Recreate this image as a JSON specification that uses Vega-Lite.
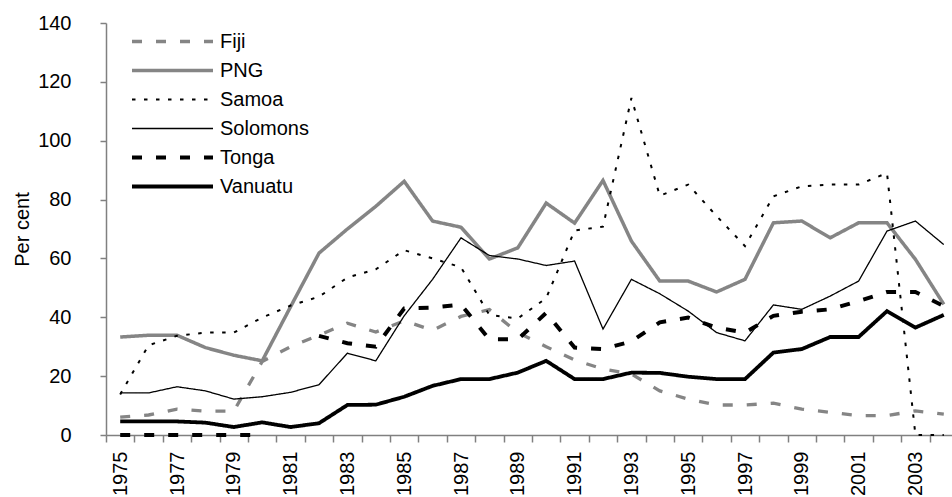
{
  "$schema": "https://vega.github.io/schema/vega-lite/v6.json",
  "width": 846,
  "height": 412,
  "autosize": {"type": "none"},
  "padding": {"left": 106, "top": 23, "right": 0, "bottom": 62},
  "background": "white",
  "config": {"view": {"stroke": null}, "font": "Liberation Sans"},
  "data": {
    "values": [
      {"year": 1975, "Fiji": 6.1, "PNG": 33.3, "Samoa": 13.8, "Solomons": 14.3, "Tonga": 0, "Vanuatu": 4.6},
      {"year": 1976, "Fiji": 6.8, "PNG": 33.9, "Samoa": 30.5, "Solomons": 14.3, "Tonga": 0, "Vanuatu": 4.6},
      {"year": 1977, "Fiji": 8.8, "PNG": 33.9, "Samoa": 33.7, "Solomons": 16.4, "Tonga": 0, "Vanuatu": 4.6},
      {"year": 1978, "Fiji": 8.1, "PNG": 29.7, "Samoa": 34.8, "Solomons": 15.0, "Tonga": 0, "Vanuatu": 4.2},
      {"year": 1979, "Fiji": 8.1, "PNG": 27.1, "Samoa": 34.8, "Solomons": 12.2, "Tonga": 0, "Vanuatu": 2.7},
      {"year": 1980, "Fiji": 25.0, "PNG": 25.2, "Samoa": 39.9, "Solomons": 13.0, "Tonga": 0, "Vanuatu": 4.3},
      {"year": 1981, "Fiji": 30.0, "PNG": 43.6, "Samoa": 44.0, "Solomons": 14.5, "Tonga": null, "Vanuatu": 2.7},
      {"year": 1982, "Fiji": 33.9, "PNG": 61.8, "Samoa": 47.0, "Solomons": 17.1, "Tonga": 33.7, "Vanuatu": 4.0},
      {"year": 1983, "Fiji": 38.0, "PNG": 70.0, "Samoa": 53.5, "Solomons": 27.8, "Tonga": 31.2, "Vanuatu": 10.2},
      {"year": 1984, "Fiji": 35.0, "PNG": 77.7, "Samoa": 56.3, "Solomons": 25.2, "Tonga": 30.0, "Vanuatu": 10.3},
      {"year": 1985, "Fiji": 38.8, "PNG": 86.2, "Samoa": 62.8, "Solomons": 40.5, "Tonga": 43.0, "Vanuatu": 13.0},
      {"year": 1986, "Fiji": 35.6, "PNG": 72.7, "Samoa": 60.0, "Solomons": 52.9, "Tonga": 43.3, "Vanuatu": 16.7},
      {"year": 1987, "Fiji": 40.3, "PNG": 70.6, "Samoa": 57.0, "Solomons": 67.0, "Tonga": 44.3, "Vanuatu": 19.0},
      {"year": 1988, "Fiji": 42.6, "PNG": 59.8, "Samoa": 40.8, "Solomons": 61.0, "Tonga": 32.5, "Vanuatu": 19.0},
      {"year": 1989, "Fiji": 34.8, "PNG": 63.6, "Samoa": 39.6, "Solomons": 59.8, "Tonga": 32.5, "Vanuatu": 21.2},
      {"year": 1990, "Fiji": 30.0, "PNG": 78.8, "Samoa": 46.5, "Solomons": 57.6, "Tonga": 41.5, "Vanuatu": 25.2},
      {"year": 1991, "Fiji": 25.5, "PNG": 72.0, "Samoa": 69.5, "Solomons": 59.1, "Tonga": 29.7, "Vanuatu": 19.0},
      {"year": 1992, "Fiji": 22.4, "PNG": 86.5, "Samoa": 70.8, "Solomons": 36.0, "Tonga": 29.2, "Vanuatu": 19.0},
      {"year": 1993, "Fiji": 20.7, "PNG": 65.9, "Samoa": 114.5, "Solomons": 52.9, "Tonga": 31.8, "Vanuatu": 21.2},
      {"year": 1994, "Fiji": 15.0, "PNG": 52.3, "Samoa": 81.3, "Solomons": 48.0, "Tonga": 38.3, "Vanuatu": 21.1},
      {"year": 1995, "Fiji": 12.2, "PNG": 52.3, "Samoa": 85.1, "Solomons": 42.1, "Tonga": 39.9, "Vanuatu": 19.8},
      {"year": 1996, "Fiji": 10.2, "PNG": 48.6, "Samoa": 74.4, "Solomons": 34.8, "Tonga": 36.5, "Vanuatu": 19.0},
      {"year": 1997, "Fiji": 10.2, "PNG": 52.9, "Samoa": 64.2, "Solomons": 32.0, "Tonga": 34.8, "Vanuatu": 19.0},
      {"year": 1998, "Fiji": 10.8, "PNG": 72.1, "Samoa": 81.1, "Solomons": 44.2, "Tonga": 40.5, "Vanuatu": 28.0},
      {"year": 1999, "Fiji": 8.8, "PNG": 72.7, "Samoa": 84.5, "Solomons": 42.7, "Tonga": 41.9, "Vanuatu": 29.2},
      {"year": 2000, "Fiji": 7.7, "PNG": 67.0, "Samoa": 85.1, "Solomons": 47.2, "Tonga": 42.7, "Vanuatu": 33.3},
      {"year": 2001, "Fiji": 6.6, "PNG": 72.1, "Samoa": 85.1, "Solomons": 52.3, "Tonga": 45.5, "Vanuatu": 33.3},
      {"year": 2002, "Fiji": 6.6, "PNG": 72.1, "Samoa": 89.0, "Solomons": 69.3, "Tonga": 48.6, "Vanuatu": 42.1},
      {"year": 2003, "Fiji": 8.2, "PNG": 59.7, "Samoa": 0, "Solomons": 72.7, "Tonga": 48.6, "Vanuatu": 36.5},
      {"year": 2004, "Fiji": 7.1, "PNG": 44.4, "Samoa": 0, "Solomons": 64.7, "Tonga": 43.8, "Vanuatu": 40.8}
    ]
  },
  "transform": [
    {"fold": ["Fiji", "PNG", "Samoa", "Solomons", "Tonga", "Vanuatu"], "as": ["country", "value"]}
  ],
  "mark": {"type": "line", "invalid": "break-paths-filter-domains", "strokeCap": "butt"},
  "encoding": {
    "x": {
      "field": "year",
      "type": "ordinal",
      "scale": {"type": "band", "range": [0, 852], "paddingInner": 0, "paddingOuter": 0},
      "axis": {
        "title": null,
        "tickBand": "extent",
        "labelExpr": "datum.value % 2 == 1 ? datum.label : ''",
        "labelAngle": -90,
        "labelFontSize": 20,
        "labelFont": "Liberation Sans",
        "labelColor": "#000000",
        "labelPadding": 9,
        "labelOverlap": false,
        "labelBound": false,
        "tickSize": 7,
        "tickColor": "#808080",
        "tickWidth": 1.5,
        "domainColor": "#808080",
        "domainWidth": 1.5,
        "grid": false
      }
    },
    "y": {
      "field": "value",
      "type": "quantitative",
      "scale": {"domain": [0, 140], "nice": false},
      "axis": {
        "title": "Per cent",
        "values": [0, 20, 40, 60, 80, 100, 120, 140],
        "grid": false,
        "tickSize": 6,
        "tickColor": "#808080",
        "tickWidth": 1.5,
        "domainColor": "#808080",
        "domainWidth": 1.5,
        "labelPadding": 29,
        "labelFontSize": 20,
        "labelFont": "Liberation Sans",
        "labelColor": "#000000",
        "titleFontSize": 20,
        "titleFont": "Liberation Sans",
        "titleFontWeight": "normal",
        "titleColor": "#000000",
        "titleAngle": -90,
        "titleX": -78,
        "titleY": 206,
        "titleAlign": "center",
        "titleBaseline": "alphabetic"
      }
    },
    "color": {
      "field": "country",
      "type": "nominal",
      "scale": {
        "domain": ["Fiji", "PNG", "Samoa", "Solomons", "Tonga", "Vanuatu"],
        "range": ["#858585", "#858585", "#000000", "#000000", "#000000", "#000000"]
      },
      "legend": {
        "title": null,
        "orient": "none",
        "legendX": 24,
        "legendY": 5,
        "symbolType": "stroke",
        "symbolSize": 6561,
        "clipHeight": 27,
        "rowPadding": 2,
        "padding": 0,
        "labelFontSize": 20,
        "labelFont": "Liberation Sans",
        "labelColor": "#000000",
        "labelOffset": 5
      }
    },
    "strokeDash": {
      "field": "country",
      "type": "nominal",
      "scale": {
        "domain": ["Fiji", "PNG", "Samoa", "Solomons", "Tonga", "Vanuatu"],
        "range": [[10, 14], [1, 0], [3.5, 8.5], [1, 0], [10, 14], [1, 0]]
      },
      "legend": {
        "title": null,
        "orient": "none",
        "legendX": 24,
        "legendY": 5,
        "symbolType": "stroke",
        "symbolSize": 6561,
        "clipHeight": 27,
        "rowPadding": 2,
        "padding": 0,
        "labelFontSize": 20,
        "labelFont": "Liberation Sans",
        "labelColor": "#000000",
        "labelOffset": 5
      }
    },
    "strokeWidth": {
      "field": "country",
      "type": "nominal",
      "scale": {
        "type": "ordinal",
        "domain": ["Fiji", "PNG", "Samoa", "Solomons", "Tonga", "Vanuatu"],
        "range": [3.3, 3.5, 2, 1.3, 4, 3.8]
      },
      "legend": {
        "title": null,
        "orient": "none",
        "legendX": 24,
        "legendY": 5,
        "symbolType": "stroke",
        "symbolSize": 6561,
        "clipHeight": 27,
        "rowPadding": 2,
        "padding": 0,
        "labelFontSize": 20,
        "labelFont": "Liberation Sans",
        "labelColor": "#000000",
        "labelOffset": 5
      }
    }
  }
}
